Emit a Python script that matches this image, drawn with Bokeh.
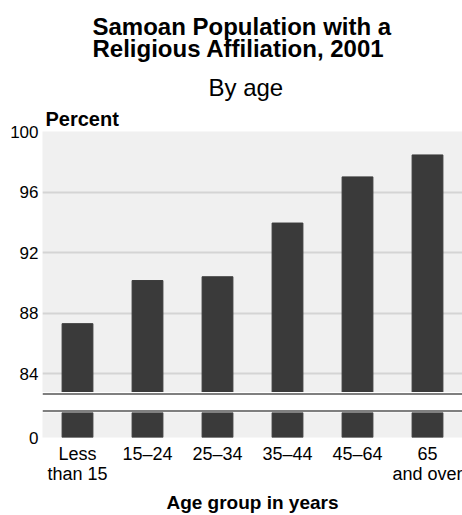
from bokeh.plotting import figure
from bokeh.models import Title, Span, FixedTicker, Range1d, FactorRange, ColumnDataSource, BoxAnnotation
from bokeh.layouts import column
from bokeh.embed import file_html
from bokeh.resources import INLINE

# ---- data ----
categories = ["Less\nthan 15", "15–24", "25–34", "35–44", "45–64", "65\nand over"]
values = [87.3, 90.15, 90.4, 93.95, 97.0, 98.45]
upper_ticks = [84, 88, 92, 96, 100]
lower_ticks = [0]

FONT = "Liberation Sans"
BAR = "#3a3a3a"
BG = "#f0f0f0"
GRID = "#d4d4d4"

src = ColumnDataSource(dict(cat=categories, val=values))
xr = FactorRange(factors=categories)


def style_y(ax):
    ax.axis_line_color = None
    ax.major_tick_line_color = None
    ax.minor_tick_line_color = None
    ax.major_tick_out = 0
    ax.major_tick_in = 0
    ax.minor_tick_out = 0
    ax.major_label_standoff = 4
    ax.major_label_text_font = FONT
    ax.major_label_text_font_size = "17px"
    ax.major_label_text_color = "black"


def blank(p):
    p.title.visible = False
    p.axis.visible = False
    p.grid.visible = False
    p.outline_line_color = None


# ---- top rule ----
p0 = figure(x_range=Range1d(0, 1), y_range=Range1d(0, 1), width=462, height=2,
            output_backend="svg", toolbar_location=None, min_border=0)
blank(p0)
p0.background_fill_color = "#6e6e6e"
p0.border_fill_color = "#6e6e6e"
p0.add_layout(BoxAnnotation(fill_color="#6e6e6e", fill_alpha=1, line_color=None))

# ---- upper panel (84-100) ----
p1 = figure(x_range=xr, y_range=Range1d(82.75, 100), frame_width=420, frame_height=261,
            output_backend="svg", toolbar_location=None,
            min_border_left=42, min_border_right=0, min_border_bottom=0, min_border_top=129)
p1.title.visible = False
p1.vbar(x="cat", top="val", bottom=0, width=0.44, source=src, color=BAR)
p1.xaxis.visible = False
p1.xgrid.visible = False
p1.ygrid.ticker = FixedTicker(ticks=upper_ticks[:-1])
p1.ygrid.grid_line_color = GRID
p1.ygrid.grid_line_width = 2
p1.yaxis.ticker = FixedTicker(ticks=upper_ticks)
style_y(p1.yaxis[0])
p1.background_fill_color = BG
p1.border_fill_color = "white"
p1.outline_line_color = None

p1.add_layout(Title(text="Percent", align="left", offset=3, standoff=3, text_color="black",
                    text_font=FONT, text_font_size="20px", text_font_style="bold"), "above")
p1.add_layout(Title(text="By age", align="left", offset=166, standoff=8, text_color="black",
                    text_font=FONT, text_font_size="24px", text_font_style="normal"), "above")
p1.add_layout(Title(text="Samoan Population with a\nReligious Affiliation, 2001", align="left",
                    offset=50, standoff=10, text_color="black", text_font=FONT,
                    text_font_size="24px", text_font_style="bold", text_line_height=0.82),
              "above")

# ---- break ----
p2 = figure(x_range=Range1d(0, 1), y_range=Range1d(0, 1), frame_width=449, frame_height=18,
            output_backend="svg", toolbar_location=None,
            min_border_left=13, min_border_right=0, min_border_top=1, min_border_bottom=1)
blank(p2)
p2.background_fill_color = "white"
p2.add_layout(Span(location=1, dimension="width", line_color="black", line_width=2))
p2.add_layout(Span(location=0, dimension="width", line_color="black", line_width=2))

# ---- lower panel (0) ----
p3 = figure(x_range=xr, y_range=Range1d(0, 25 / 15.15), frame_width=420, frame_height=25,
            output_backend="svg", toolbar_location=None,
            min_border_left=42, min_border_right=0, min_border_top=0, min_border_bottom=78)
p3.title.visible = False
p3.vbar(x="cat", top="val", bottom=0, width=0.44, source=src, color=BAR)
p3.grid.visible = False
p3.yaxis.ticker = FixedTicker(ticks=lower_ticks)
style_y(p3.yaxis[0])
p3.xaxis.axis_line_color = None
p3.xaxis.major_tick_line_color = None
p3.xaxis.minor_tick_line_color = None
p3.xaxis.major_tick_out = 0
p3.xaxis.major_tick_in = 0
p3.xaxis.minor_tick_out = 0
p3.xaxis.major_label_standoff = 6
p3.xaxis.major_label_text_font = FONT
p3.xaxis.major_label_text_font_size = "18px"
p3.xaxis.major_label_text_line_height = 1.0
p3.xaxis.major_label_text_color = "black"
p3.xaxis.major_label_orientation = "horizontal"
p3.xaxis.axis_label = "Age group in years"
p3.xaxis.axis_label_text_font = FONT
p3.xaxis.axis_label_text_font_size = "19px"
p3.xaxis.axis_label_text_font_style = "bold"
p3.xaxis.axis_label_text_color = "black"
p3.xaxis.axis_label_standoff = 5
p3.background_fill_color = BG
p3.border_fill_color = "white"
p3.outline_line_color = None

layout = column(p0, p1, p2, p3, spacing=0)
open("out.html", "w").write(file_html(layout, INLINE))
